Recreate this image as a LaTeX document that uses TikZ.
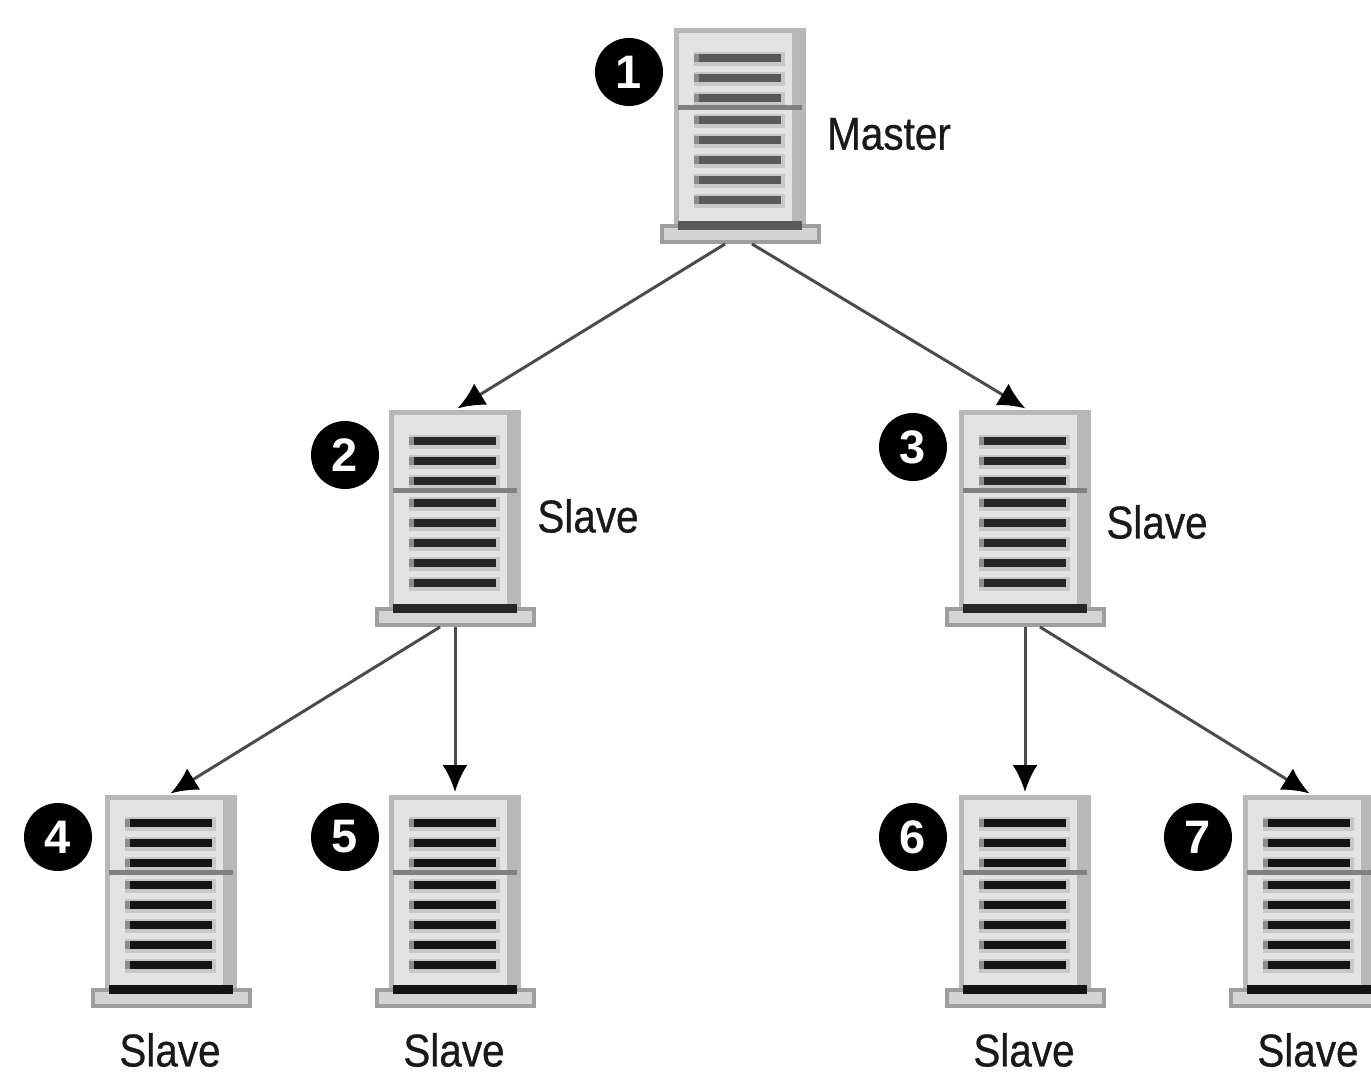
\documentclass[tikz,border=0pt]{standalone}
\usepackage{fontspec}
\setmainfont{Liberation Sans}
\newfontfamily\labfont[FakeBold=0.7]{Liberation Sans}
\usetikzlibrary{arrows.meta}
\tikzset{
  caselabel/.style={font=\labfont\fontsize{46}{46}\selectfont, text=black!90, inner sep=0pt, xscale=.88, anchor=center},
  badge/.style={circle, fill=black, text=white, font=\bfseries\fontsize{47}{47}\selectfont, minimum size=68pt, inner sep=0pt},
  link/.style={draw=black!70, line width=3pt, -{Latex[length=27pt,width=25pt,color=black]}, shorten >=3pt},
  bodybox/.style={draw=black!28, fill=black!11, line width=5pt, minimum width=127pt, inner sep=0pt, anchor=north},
  basebox/.style={draw=black!38, fill=black!17, line width=4pt, minimum width=157pt, inner sep=0pt, anchor=south},
}
\newcommand{\serv}[6]{%
  % #1 name, #2 centre x, #3 top, #4 bottom, #5 first bar offset, #6 bar colour
  \node[bodybox, minimum height=#4-#3-21] (body#1) at (#2,#3) {};
  \fill[black!28] (#2+52,#3+4) rectangle (#2+63,#4-22);
  \foreach \d in {0,20,40,62,82,102,122,142} {
    \fill[black!22] (#2-46,#3+#5+\d-6) rectangle (#2+45,#3+#5+\d+8);
    \fill[black!45] (#2-46,#3+#5+\d-4) rectangle (#2-41,#3+#5+\d+4);
    \fill[#6] (#2-41,#3+#5+\d-4) rectangle (#2+41,#3+#5+\d+4);
  }
  \fill[black!50] (#2-62,#3+#5+47) rectangle (#2+62,#3+#5+52);
  \node[basebox, minimum height=16pt] (base#1) at (#2,#4) {};
  \fill[#6] (#2-62,#4-23) rectangle (#2+62,#4-14);
}
\begin{document}
\begin{tikzpicture}[x=1pt,y=-1pt]
\useasboundingbox (0,0) rectangle (1371,1074);
\clip (0,0) rectangle (1371,1074);
\serv{1}{740}{28}{244}{30}{black!65}
\serv{2}{455}{410}{627}{31}{black!85}
\serv{3}{1025}{410}{627}{31}{black!85}
\serv{4}{171}{795}{1008}{28}{black!92}
\serv{5}{455}{795}{1008}{28}{black!92}
\serv{6}{1025}{795}{1008}{28}{black!92}
\serv{7}{1309}{795}{1008}{28}{black!92}
\node[badge] (n1) at (629,72) {1};
\node[badge] (n2) at (345,455) {2};
\node[badge] (n3) at (913,447) {3};
\node[badge] (n4) at (58,837) {4};
\node[badge] (n5) at (345,837) {5};
\node[badge] (n6) at (913,837) {6};
\node[badge] (n7) at (1198,837) {7};
\node[caselabel] (lm) at (889,134) {Master};
\node[caselabel] (l2) at (588,516) {Slave};
\node[caselabel] (l3) at (1157,522) {Slave};
\node[caselabel] (l4) at (170,1050) {Slave};
\node[caselabel] (l5) at (454,1050) {Slave};
\node[caselabel] (l6) at (1024,1050) {Slave};
\node[caselabel] (l7) at (1308,1050) {Slave};
\draw[link] ([xshift=-15pt]base1.south) -- ([xshift=0pt]body2.north);
\draw[link] ([xshift=12pt]base1.south) -- ([xshift=3pt]body3.north);
\draw[link] ([xshift=-15pt]base2.south) -- ([xshift=-3pt]body4.north);
\draw[link] (base2.south) -- (body5.north);
\draw[link] (base3.south) -- (body6.north);
\draw[link] ([xshift=15pt]base3.south) -- ([xshift=3pt]body7.north);
\end{tikzpicture}
\end{document}
